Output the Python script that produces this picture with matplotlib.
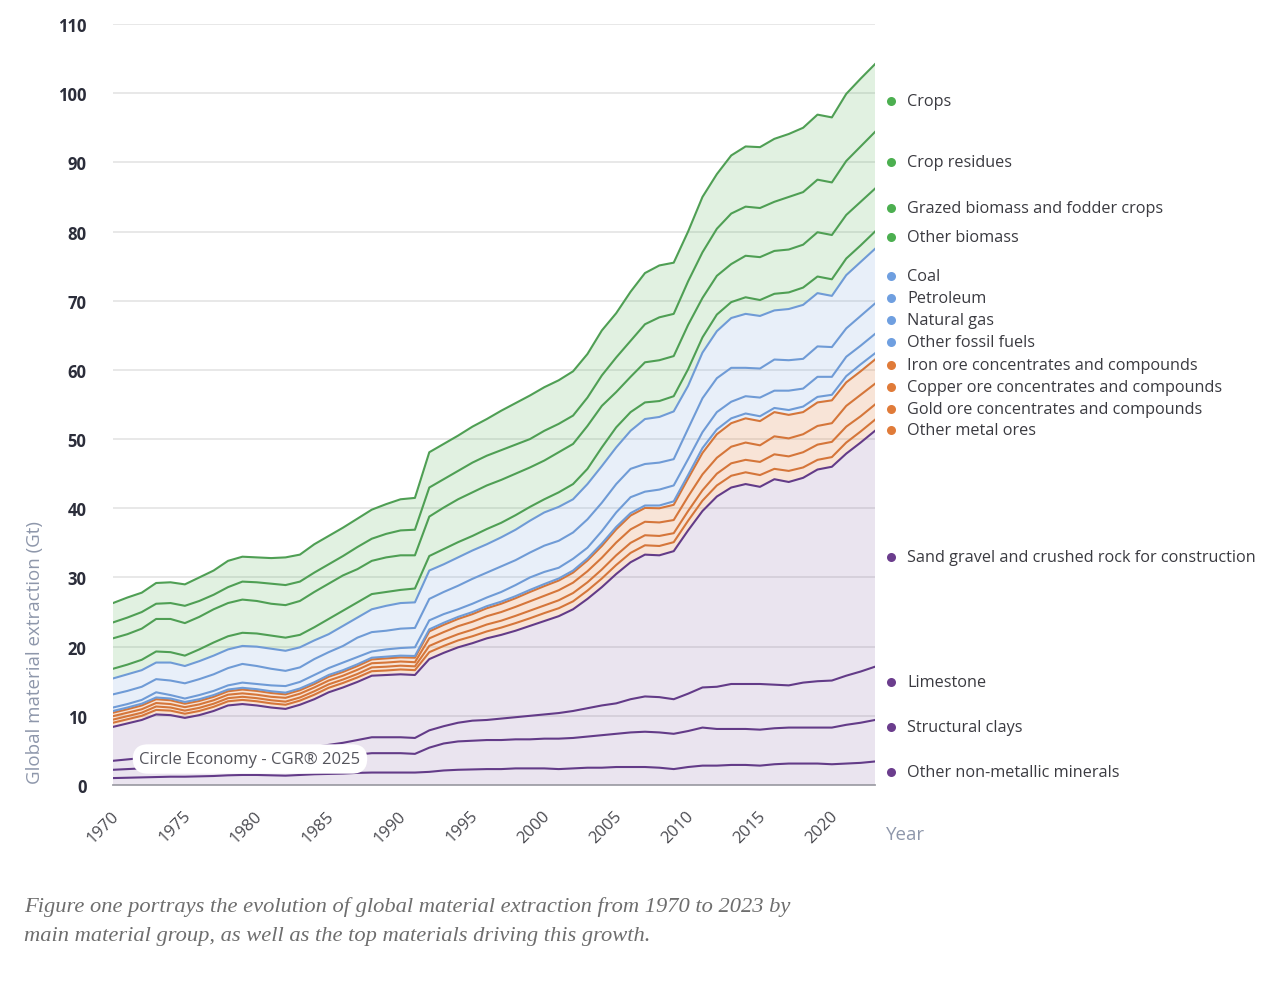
import matplotlib
matplotlib.use("Agg")
import matplotlib.pyplot as plt
import numpy as np
from matplotlib.transforms import ScaledTranslation

plt.rcParams['font.family'] = ['Open Sans', 'DejaVu Sans']

years = list(range(1970, 2024))

# Series values in Gt (bottom of stack first)
other_non_metallic = [1.0, 1.05, 1.1, 1.15, 1.2, 1.2, 1.25, 1.3, 1.4, 1.45,
                      1.45, 1.4, 1.35, 1.45, 1.55, 1.6, 1.65, 1.75, 1.8, 1.8,
                      1.8, 1.8, 1.9, 2.1, 2.2, 2.25, 2.3, 2.3, 2.4, 2.4,
                      2.4, 2.3, 2.4, 2.5, 2.5, 2.6, 2.6, 2.6, 2.5, 2.3,
                      2.6, 2.8, 2.8, 2.9, 2.9, 2.8, 3.0, 3.1, 3.1, 3.1,
                      3.0, 3.1, 3.2, 3.4]
structural_clays = [1.2, 1.25, 1.3, 1.35, 1.4, 1.4, 1.45, 1.6, 1.7, 1.75,
                    1.85, 1.9, 2.05, 2.15, 2.25, 2.4, 2.55, 2.65, 2.8, 2.8,
                    2.8, 2.7, 3.5, 3.9, 4.1, 4.15, 4.2, 4.2, 4.2, 4.2,
                    4.3, 4.4, 4.4, 4.5, 4.7, 4.8, 5.0, 5.1, 5.1, 5.1,
                    5.2, 5.5, 5.3, 5.2, 5.2, 5.2, 5.2, 5.2, 5.2, 5.2,
                    5.3, 5.6, 5.8, 6.0]
limestone = [1.3, 1.4, 1.5, 1.6, 1.6, 1.6, 1.7, 1.7, 1.7, 1.8,
             1.7, 1.7, 1.6, 1.6, 1.7, 1.8, 1.9, 2.1, 2.3, 2.3,
             2.3, 2.3, 2.5, 2.5, 2.7, 2.9, 2.9, 3.1, 3.2, 3.4,
             3.5, 3.7, 3.9, 4.1, 4.3, 4.4, 4.8, 5.1, 5.1, 5.0,
             5.4, 5.8, 6.1, 6.5, 6.5, 6.6, 6.3, 6.1, 6.5, 6.7,
             6.8, 7.1, 7.4, 7.7]
sand_gravel = [4.9, 5.2, 5.5, 6.1, 5.9, 5.5, 5.7, 6.1, 6.7, 6.7,
               6.5, 6.2, 6.0, 6.4, 6.9, 7.6, 8.0, 8.4, 8.9, 9.0,
               9.1, 9.1, 10.3, 10.6, 10.9, 11.2, 11.8, 12.1, 12.5, 13.0,
               13.5, 14.0, 14.7, 15.8, 17.1, 18.7, 19.8, 20.5, 20.5, 21.4,
               23.6, 25.5, 27.5, 28.4, 28.9, 28.5, 29.7, 29.4, 29.6, 30.6,
               30.9, 32.1, 33.1, 34.1]
other_metal_ores = [0.6, 0.6, 0.6, 0.65, 0.65, 0.6, 0.6, 0.6, 0.6, 0.6,
                    0.6, 0.6, 0.6, 0.6, 0.65, 0.65, 0.65, 0.65, 0.65, 0.65,
                    0.7, 0.7, 1.0, 1.0, 1.0, 1.0, 1.0, 1.05, 1.1, 1.1,
                    1.15, 1.15, 1.15, 1.2, 1.25, 1.3, 1.35, 1.35, 1.35, 1.3,
                    1.4, 1.5, 1.6, 1.7, 1.7, 1.7, 1.5, 1.6, 1.5, 1.4,
                    1.4, 1.6, 1.6, 1.6]
gold_ore = [0.45, 0.45, 0.45, 0.5, 0.45, 0.45, 0.45, 0.45, 0.45, 0.45,
            0.45, 0.45, 0.45, 0.45, 0.5, 0.5, 0.5, 0.5, 0.55, 0.55,
            0.55, 0.55, 0.9, 0.9, 0.9, 0.95, 1.0, 1.0, 1.05, 1.1,
            1.1, 1.15, 1.2, 1.2, 1.3, 1.4, 1.45, 1.45, 1.45, 1.3,
            1.4, 1.5, 1.7, 1.8, 1.8, 1.9, 2.1, 2.1, 2.2, 2.2,
            2.2, 2.3, 2.2, 2.2]
copper_ore = [0.5, 0.5, 0.5, 0.5, 0.5, 0.5, 0.5, 0.5, 0.5, 0.5,
              0.5, 0.5, 0.55, 0.55, 0.55, 0.55, 0.55, 0.6, 0.6, 0.6,
              0.6, 0.6, 1.1, 1.1, 1.15, 1.15, 1.2, 1.25, 1.3, 1.35,
              1.4, 1.45, 1.5, 1.6, 1.7, 1.85, 1.95, 1.95, 1.95, 1.9,
              2.1, 2.3, 2.3, 2.4, 2.5, 2.4, 2.6, 2.6, 2.6, 2.7,
              2.7, 3.0, 3.1, 3.0]
iron_ore = [0.5, 0.5, 0.55, 0.55, 0.55, 0.5, 0.5, 0.5, 0.5, 0.55,
            0.55, 0.55, 0.5, 0.5, 0.5, 0.55, 0.55, 0.55, 0.55, 0.6,
            0.6, 0.65, 1.0, 1.05, 1.05, 1.1, 1.15, 1.2, 1.25, 1.35,
            1.4, 1.4, 1.45, 1.55, 1.7, 1.9, 2.0, 2.0, 2.05, 2.2,
            2.6, 3.1, 3.4, 3.4, 3.5, 3.5, 3.5, 3.4, 3.2, 3.4,
            3.3, 3.4, 3.4, 3.5]
other_fossil_fuels = [0.25, 0.25, 0.25, 0.25, 0.25, 0.25, 0.25, 0.25, 0.25, 0.25,
                      0.25, 0.25, 0.25, 0.25, 0.25, 0.25, 0.25, 0.25, 0.25, 0.25,
                      0.25, 0.25, 0.3, 0.3, 0.3, 0.3, 0.3, 0.3, 0.3, 0.3,
                      0.3, 0.3, 0.3, 0.3, 0.35, 0.35, 0.35, 0.35, 0.4, 0.5,
                      0.5, 0.7, 0.7, 0.7, 0.7, 0.7, 0.6, 0.7, 0.8, 0.8,
                      0.8, 0.9, 1.0, 0.9]
natural_gas = [0.5, 0.5, 0.55, 0.75, 0.5, 0.5, 0.6, 0.6, 0.6, 0.75,
               0.75, 0.85, 0.95, 0.95, 1.05, 1.0, 1.1, 1.05, 0.9, 1.05,
               1.1, 1.25, 1.3, 1.25, 1.1, 1.2, 1.25, 1.4, 1.6, 1.8,
               1.75, 1.55, 1.7, 1.55, 1.8, 2.1, 2.3, 2.0, 2.3, 2.3,
               2.3, 2.3, 2.5, 2.4, 2.5, 2.7, 2.5, 2.8, 2.6, 2.9,
               2.6, 2.8, 2.7, 2.8]
petroleum = [1.9, 1.9, 1.9, 1.9, 2.1, 2.2, 2.3, 2.4, 2.5, 2.7,
             2.6, 2.4, 2.2, 2.1, 2.3, 2.3, 2.4, 2.8, 2.8, 2.7,
             2.8, 2.8, 3.1, 3.2, 3.4, 3.6, 3.6, 3.7, 3.6, 3.6,
             3.8, 3.9, 3.8, 4.1, 4.1, 4.1, 4.1, 4.0, 3.9, 3.8,
             4.4, 4.9, 4.9, 4.9, 4.1, 4.2, 4.5, 4.4, 4.3, 4.4,
             4.3, 4.1, 4.3, 4.4]
coal = [2.3, 2.4, 2.4, 2.4, 2.6, 2.5, 2.6, 2.7, 2.7, 2.6,
        2.8, 2.9, 2.9, 2.9, 2.7, 2.6, 2.9, 2.9, 3.3, 3.6,
        3.7, 3.7, 4.1, 4.0, 4.1, 4.1, 4.1, 4.2, 4.4, 4.6,
        4.8, 4.9, 4.8, 5.1, 5.3, 5.3, 5.5, 6.5, 6.6, 6.9,
        6.2, 6.6, 6.8, 7.2, 7.8, 7.6, 7.1, 7.4, 7.8, 7.7,
        7.4, 7.7, 7.8, 7.9]
other_biomass = [1.4, 1.4, 1.5, 1.6, 1.5, 1.5, 1.7, 1.9, 1.9, 1.9,
                 1.9, 1.9, 1.9, 1.8, 1.9, 2.2, 2.2, 2.2, 2.2, 2.0,
                 1.9, 2.0, 2.1, 2.2, 2.2, 2.1, 2.2, 2.1, 2.1, 2.0,
                 1.9, 2.1, 2.2, 2.2, 2.7, 2.9, 2.7, 2.4, 2.3, 2.2,
                 2.4, 2.2, 2.4, 2.3, 2.4, 2.3, 2.4, 2.4, 2.5, 2.4,
                 2.4, 2.4, 2.4, 2.5]
grazed_biomass = [4.4, 4.4, 4.5, 4.7, 4.8, 4.7, 4.7, 4.8, 4.8, 4.8,
                  4.7, 4.6, 4.7, 4.9, 5.1, 5.1, 5.1, 4.8, 4.8, 5.0,
                  5.0, 4.8, 5.7, 6.0, 6.2, 6.3, 6.3, 6.2, 6.0, 5.7,
                  5.6, 5.8, 5.8, 6.2, 6.0, 5.1, 5.1, 5.8, 5.9, 5.8,
                  6.4, 5.7, 5.6, 5.5, 6.0, 6.2, 6.2, 6.2, 6.2, 6.4,
                  6.4, 6.3, 6.3, 6.2]
crop_residues = [2.3, 2.4, 2.4, 2.2, 2.3, 2.5, 2.3, 2.1, 2.3, 2.6,
                 2.7, 2.9, 2.9, 2.8, 2.8, 2.8, 2.8, 3.2, 3.2, 3.4,
                 3.6, 3.7, 4.2, 4.1, 4.1, 4.3, 4.3, 4.3, 4.2, 4.1,
                 4.3, 4.1, 4.1, 4.1, 4.4, 5.0, 5.2, 5.5, 6.2, 6.1,
                 6.3, 6.6, 6.8, 7.3, 7.1, 7.1, 7.1, 7.6, 7.6, 7.6,
                 7.6, 7.8, 8.0, 8.2]
crops = [2.8, 2.9, 2.8, 3.0, 3.0, 3.1, 3.4, 3.5, 3.8, 3.6,
         3.6, 3.7, 4.0, 3.9, 4.1, 4.1, 4.1, 4.1, 4.2, 4.3,
         4.5, 4.6, 5.1, 5.1, 5.1, 5.2, 5.3, 5.7, 6.0, 6.3,
         6.3, 6.3, 6.4, 6.3, 6.5, 6.4, 7.1, 7.4, 7.5, 7.4,
         7.2, 8.0, 7.9, 8.4, 8.7, 8.8, 9.1, 9.1, 9.3, 9.4,
         9.4, 9.7, 9.8, 9.8]

series = [other_non_metallic, structural_clays, limestone, sand_gravel,
          other_metal_ores, gold_ore, copper_ore, iron_ore,
          other_fossil_fuels, natural_gas, petroleum, coal,
          other_biomass, grazed_biomass, crop_residues, crops]
labels = ["Other non-metallic minerals", "Structural clays", "Limestone",
          "Sand gravel and crushed rock for construction",
          "Other metal ores", "Gold ore concentrates and compounds",
          "Copper ore concentrates and compounds",
          "Iron ore concentrates and compounds",
          "Other fossil fuels", "Natural gas", "Petroleum", "Coal",
          "Other biomass", "Grazed biomass and fodder crops",
          "Crop residues", "Crops"]
groups = ["min"] * 4 + ["met"] * 4 + ["fos"] * 4 + ["bio"] * 4

line_col = {"bio": "#4f9f54", "fos": "#6f9bd6", "met": "#d5763a", "min": "#633b88"}
dot_col = {"bio": "#4caf50", "fos": "#6f9fe0", "met": "#e07b39", "min": "#6b3d8d"}
fill_rgb = {"bio": (0.30, 0.69, 0.31, 0.17), "fos": (0.44, 0.62, 0.87, 0.16),
            "met": (0.88, 0.48, 0.22, 0.20), "min": (0.42, 0.25, 0.56, 0.14)}

W, H = 1284, 987
fig = plt.figure(figsize=(W / 100, H / 100), dpi=100)
ax = fig.add_axes([113 / W, 1 - 786 / H, (875 - 113) / W, (786 - 25) / H])

ax.set_xlim(1970, 2023)
ax.set_ylim(0, 110)
ax.set_yticks(range(0, 111, 10))
ax.set_xticks(range(1970, 2021, 5))
ax.yaxis.grid(True, color="#e2e2e2", lw=1.1, zorder=0)
ax.set_axisbelow(True)
for s in ["top", "right", "left"]:
    ax.spines[s].set_visible(False)
ax.spines["bottom"].set_color("#a0a0a8")
ax.spines["bottom"].set_linewidth(1.3)

ax.stackplot(years, *series, colors=[fill_rgb[g] for g in groups], linewidth=0, zorder=1)
cum = np.cumsum(np.array(series), axis=0)
for i, g in enumerate(groups):
    ax.plot(years, cum[i], color=line_col[g], lw=1.5, zorder=3)

ax.tick_params(axis="y", length=0, pad=19, labelsize=12, labelcolor="#2b2d3a")
for t in ax.get_yticklabels():
    t.set_fontweight("bold")
ax.tick_params(axis="x", length=0, pad=16, labelsize=12, labelcolor="#4a4a50")
for t in ax.get_xticklabels():
    t.set_rotation(45)
    t.set_ha("right")
    t.set_va("top")
    t.set_transform(t.get_transform() + ScaledTranslation(9 / 100, 0, fig.dpi_scale_trans))

# overlay in pixel coordinates for annotations
ov = fig.add_axes([0, 0, 1, 1])
ov.set_xlim(0, W)
ov.set_ylim(H, 0)
ov.axis("off")

label_y_px = [773, 728, 683, 558, 431, 410, 388, 366, 343, 321, 299, 277, 238, 209, 163, 102]
for lab, g, yp in zip(labels, groups, label_y_px):
    ov.plot([891], [yp], "o", ms=6.5, color=dot_col[g], mec="none")
    ov.text(907, yp, lab, fontsize=11.7, color="#3a3a40", va="center", ha="left")

ov.text(250, 760, "Circle Economy - CGR® 2025", fontsize=12, color="#55555c",
        ha="center", va="center",
        bbox=dict(boxstyle="round,pad=0.4,rounding_size=0.9", fc="white", ec="none"))

ov.text(35, 652, "Global material extraction (Gt)", rotation=90, fontsize=13.5,
        color="#8e97ab", ha="center", va="center")
ov.text(906, 835, "Year", fontsize=13.5, color="#8e97ab", ha="center", va="center")

cap_font = dict(family=["Liberation Serif", "DejaVu Serif"], style="italic",
                fontsize=16.2, color="#6e6e6e", ha="left", va="center")
ov.text(24, 907, "Figure one portrays the evolution of global material extraction from 1970 to 2023 by", **cap_font)
ov.text(24, 937, "main material group, as well as the top materials driving this growth.", **cap_font)

fig.savefig("out.png", dpi=100, facecolor="white")
